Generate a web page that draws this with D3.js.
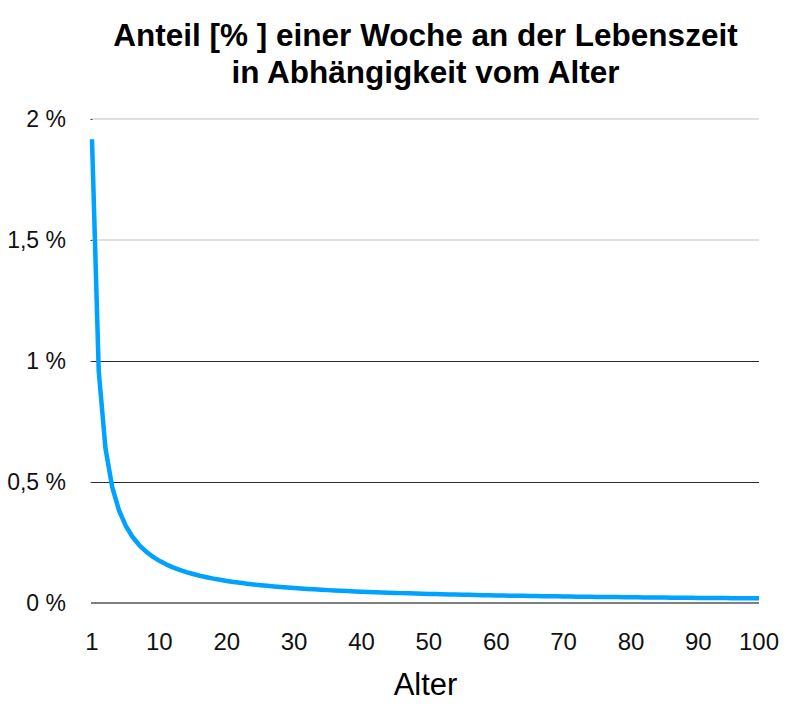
<!DOCTYPE html>
<html>
<head>
<meta charset="utf-8">
<script src="https://cdn.jsdelivr.net/npm/d3@7"></script>
<style>
  html, body { margin: 0; padding: 0; background: #fff; }
  svg { display: block; font-family: "Liberation Sans", Arial, Helvetica, sans-serif; }
</style>
</head>
<body>
<svg id="chart" width="800" height="711"></svg>
<script>
const titleLines = ["Anteil [% ] einer Woche an der Lebenszeit", "in Abhängigkeit vom Alter"];
const xAxisTitle = "Alter";

const ages = [1,2,3,4,5,6,7,8,9,10,11,12,13,14,15,16,17,18,19,20,
  21,22,23,24,25,26,27,28,29,30,31,32,33,34,35,36,37,38,39,40,
  41,42,43,44,45,46,47,48,49,50,51,52,53,54,55,56,57,58,59,60,
  61,62,63,64,65,66,67,68,69,70,71,72,73,74,75,76,77,78,79,80,
  81,82,83,84,85,86,87,88,89,90,91,92,93,94,95,96,97,98,99,100];

const shares = [1.9165,0.9583,0.6388,0.4791,0.3833,0.3194,0.2738,0.2396,0.2129,0.1917,
  0.1742,0.1597,0.1474,0.1369,0.1278,0.1198,0.1127,0.1065,0.1009,0.0958,
  0.0913,0.0871,0.0833,0.0799,0.0767,0.0737,0.0710,0.0684,0.0661,0.0639,
  0.0618,0.0599,0.0581,0.0564,0.0548,0.0532,0.0518,0.0504,0.0491,0.0479,
  0.0467,0.0456,0.0446,0.0436,0.0426,0.0417,0.0408,0.0399,0.0391,0.0383,
  0.0376,0.0369,0.0362,0.0355,0.0348,0.0342,0.0336,0.0330,0.0325,0.0319,
  0.0314,0.0309,0.0304,0.0299,0.0295,0.0290,0.0286,0.0282,0.0278,0.0274,
  0.0270,0.0266,0.0263,0.0259,0.0256,0.0252,0.0249,0.0246,0.0243,0.0240,
  0.0237,0.0234,0.0231,0.0228,0.0225,0.0223,0.0220,0.0218,0.0215,0.0213,
  0.0211,0.0208,0.0206,0.0204,0.0202,0.0200,0.0198,0.0196,0.0194,0.0192];

// x tick labels and the categories at which they sit
const xTickAt = [1,11,21,31,41,51,61,71,81,91,100];
const xTickLabels = ["1","10","20","30","40","50","60","70","80","90","100"];

const yTicks = [0, 0.5, 1, 1.5, 2];
const yTickLabels = ["0 %", "0,5 %", "1 %", "1,5 %", "2 %"];

const svg = d3.select("#chart");
const margin = {left: 92, right: 41, top: 119, bottom: 108};
const W = 800, H = 711;

const x = d3.scaleLinear().domain([1, 100]).range([margin.left, W - margin.right]);
const y = d3.scaleLinear().domain([0, 2]).range([H - margin.bottom, margin.top]);

// gridlines
const grid = svg.append("g");
yTicks.forEach((t, i) => {
  if (t === 0) return;
  const light = t > 1;
  grid.append("line")
    .attr("x1", x(1) - 1).attr("x2", x(100))
    .attr("y1", y(t) + (light ? 0 : 0.5)).attr("y2", y(t) + (light ? 0 : 0.5))
    .attr("stroke", light ? "#d6d6d6" : "#2a2a2a")
    .attr("stroke-width", light ? 1.5 : 1);
  grid.append("line")
    .attr("x1", x(1) - 1.5).attr("x2", x(1) + 0.5)
    .attr("y1", y(t) + 0.5).attr("y2", y(t) + 0.5)
    .attr("stroke", "#444").attr("stroke-width", 1);
});

// y labels
svg.append("g").selectAll("text").data(yTicks).join("text")
  .attr("x", 66).attr("y", d => y(d))
  .attr("dy", "0.36em")
  .attr("text-anchor", "end")
  .attr("font-size", 23)
  .attr("fill", "#111")
  .text((d, i) => yTickLabels[i]);

// zero axis
svg.append("line")
  .attr("x1", x(1) - 1).attr("x2", x(100))
  .attr("y1", y(0)).attr("y2", y(0))
  .attr("stroke", "#555").attr("stroke-width", 1.6);

// x labels
svg.append("g").selectAll("text").data(xTickAt).join("text")
  .attr("x", d => x(d)).attr("y", y(0) + 47)
  .attr("text-anchor", "middle")
  .attr("font-size", 24)
  .attr("fill", "#111")
  .text((d, i) => xTickLabels[i]);

// line
const line = d3.line().x((d, i) => x(ages[i])).y(d => y(d));
svg.append("path")
  .datum(shares)
  .attr("d", line)
  .attr("fill", "none")
  .attr("stroke", "#00a2ff")
  .attr("stroke-width", 4.5)
  .attr("stroke-linejoin", "round");

// title
const cx = (x(1) + x(100)) / 2;
svg.append("text").attr("x", cx).attr("y", 46)
  .attr("text-anchor", "middle").attr("font-weight", "bold").attr("font-size", 31.5)
  .attr("fill", "#000").text(titleLines[0]);
svg.append("text").attr("x", cx).attr("y", 83)
  .attr("text-anchor", "middle").attr("font-weight", "bold").attr("font-size", 31.5)
  .attr("fill", "#000").text(titleLines[1]);

// x axis title
svg.append("text").attr("x", cx).attr("y", 695)
  .attr("text-anchor", "middle").attr("font-size", 31)
  .attr("fill", "#000").text(xAxisTitle);
</script>
</body>
</html>
